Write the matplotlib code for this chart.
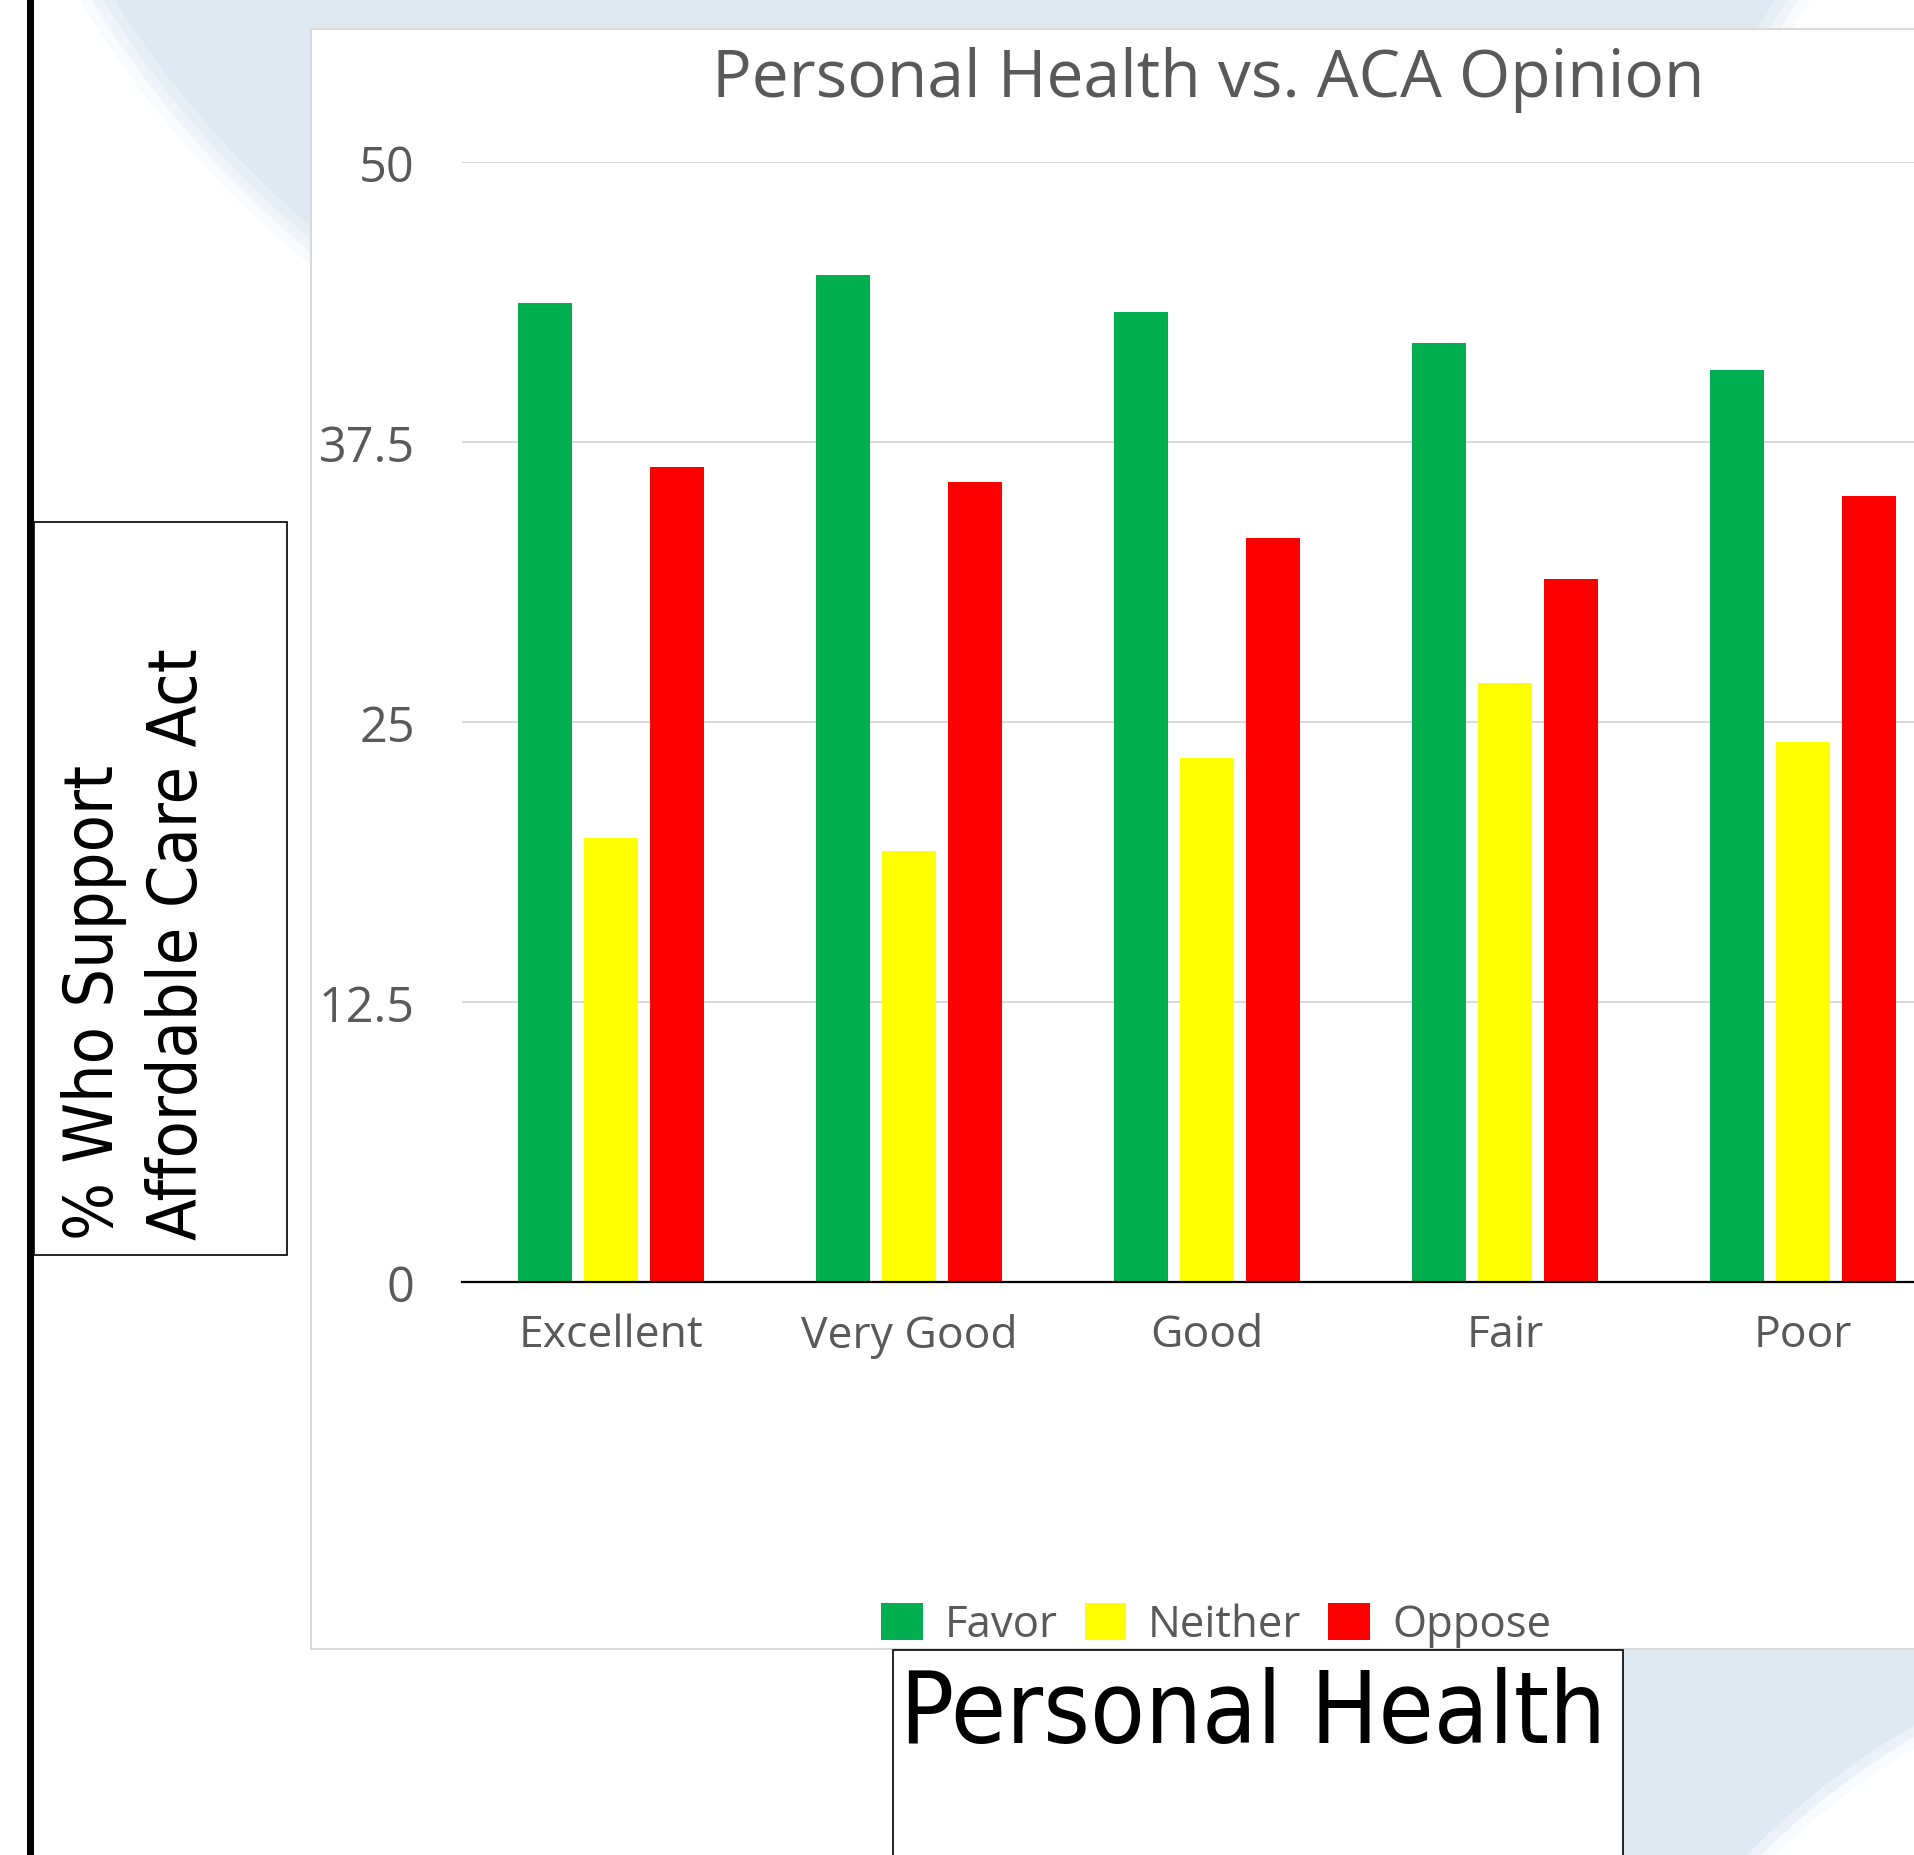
import numpy as np
import matplotlib
matplotlib.use("Agg")
from matplotlib import pyplot as plt
from matplotlib import font_manager
from matplotlib.patches import Rectangle, Circle, Patch

###* DATA
categories = ["Excellent", "Very Good", "Good", "Fair", "Poor"]
favor = [43.7, 44.95, 43.3, 41.9, 40.7]
neither = [19.8, 19.25, 23.4, 26.75, 24.1]
oppose = [36.4, 35.7, 33.2, 31.4, 35.1]
series_names = ["Favor", "Neither", "Oppose"]
y_ticks = [0, 12.5, 25, 37.5, 50]
y_tick_labels = ["0", "12.5", "25", "37.5", "50"]

###* STYLE
COLORS = ["#00b050", "#ffff00", "#ff0000"]
GRAY_TXT = "#595959"
GRID = "#d9d9d9"
BG_BLUE = "#dfe9f2"
W, H = 1915, 1856

def fx(px):
    return px / W

def fy(py):
    return 1 - py / H

# narrow font for the slide text boxes
fonts = font_manager.fontManager.ttflist
names = {f.name for f in fonts}
if any(f.name == "DejaVu Sans" and f.stretch == "condensed" for f in fonts):
    slide_font = dict(family="DejaVu Sans", stretch="condensed")
elif "Liberation Sans Narrow" in names:
    slide_font = dict(family="Liberation Sans Narrow")
else:
    slide_font = dict(family="DejaVu Sans")
chart_font = "Open Sans" if "Open Sans" in names else "DejaVu Sans"

fig = plt.figure(figsize=(W / 100, H / 100), dpi=100)
fig.patch.set_facecolor("white")

###* BACKGROUND (slide)
bg = fig.add_axes([0, 0, 1, 1], zorder=0)
bg.set_xlim(0, W)
bg.set_ylim(H, 0)
bg.set_axis_off()
#* soft blue swoosh top
for r, a in [(1010, 0.2), (1000, 0.3), (990, 0.5), (980, 1.0)]:
    bg.add_patch(Circle((945, -520), r, color=BG_BLUE, alpha=a, lw=0))
#* blue corner bottom right with white arc
bg.add_patch(Rectangle((1623, 1640), 300, 230, color=BG_BLUE, lw=0))
for r, a in [(790, 0.4), (780, 0.7), (770, 1.0)]:
    bg.add_patch(Circle((2310, 2410), r, color="white", alpha=a, lw=0))
#* thick black line at the left
bg.add_patch(Rectangle((27, -5), 7, H + 10, color="black", lw=0))
#* chart card
bg.add_patch(Rectangle((311, 30), 1700, 1620, facecolor="white", edgecolor=GRID, lw=1.5))
#* y label box
bg.add_patch(Rectangle((34, 523), 253, 733, facecolor="white", edgecolor="black", lw=1.2))
bg.text(136, 1240, "% Who Support\nAffordable Care Act", rotation=90, ha="center", va="bottom",
        multialignment="left", fontsize=49, linespacing=1.33, color="black", **slide_font)
#* x label box
bg.add_patch(Rectangle((893, 1651), 730, 260, facecolor="white", edgecolor="black", lw=1.2))
bg.text(900, 1743, "Personal Health", ha="left", va="baseline", fontsize=72,
        color="black", **slide_font)

###* CHART
ax = fig.add_axes([fx(462), fy(1283), (1952 - 462) / W, (1283 - 163) / H], zorder=2)
ax.patch.set_alpha(0)
x = np.arange(len(categories))
bar_w = 0.181
step = 0.223
for i, (vals, col) in enumerate(zip([favor, neither, oppose], COLORS)):
    ax.bar(x + (i - 1) * step, vals, width=bar_w, color=col, zorder=3)
ax.set_xlim(-0.5, len(categories) - 0.5)
ax.set_ylim(0, 50)
ax.set_yticks(y_ticks)
ax.set_yticklabels(y_tick_labels, fontsize=35, color=GRAY_TXT, family=chart_font)
ax.set_xticks(x)
ax.set_xticklabels(categories, fontsize=32, color=GRAY_TXT, family=chart_font)
ax.tick_params(axis="y", length=0, pad=34)
ax.tick_params(axis="x", length=0, pad=22)
ax.grid(axis="y", color=GRID, lw=1.5, zorder=1)
ax.set_axisbelow(True)
for side in ["top", "right", "left"]:
    ax.spines[side].set_visible(False)
ax.spines["bottom"].set_color("black")
ax.spines["bottom"].set_linewidth(1.6)
ax.spines["bottom"].set_zorder(4)

fig.text(fx(1208), fy(97), "Personal Health vs. ACA Opinion", ha="center", va="baseline",
         fontsize=47.5, color=GRAY_TXT, family=chart_font)

handles = [Patch(facecolor=c, edgecolor="none") for c in COLORS]
leg = fig.legend(handles, series_names, loc="center", bbox_to_anchor=(fx(1216), fy(1626)),
                 ncol=3, frameon=False, handlelength=0.95, handleheight=0.95,
                 handletextpad=0.5, columnspacing=0.62, borderaxespad=0, borderpad=0,
                 prop={"family": chart_font, "size": 31.5})
for t in leg.get_texts():
    t.set_color(GRAY_TXT)

fig.savefig("out.png", dpi=100)
